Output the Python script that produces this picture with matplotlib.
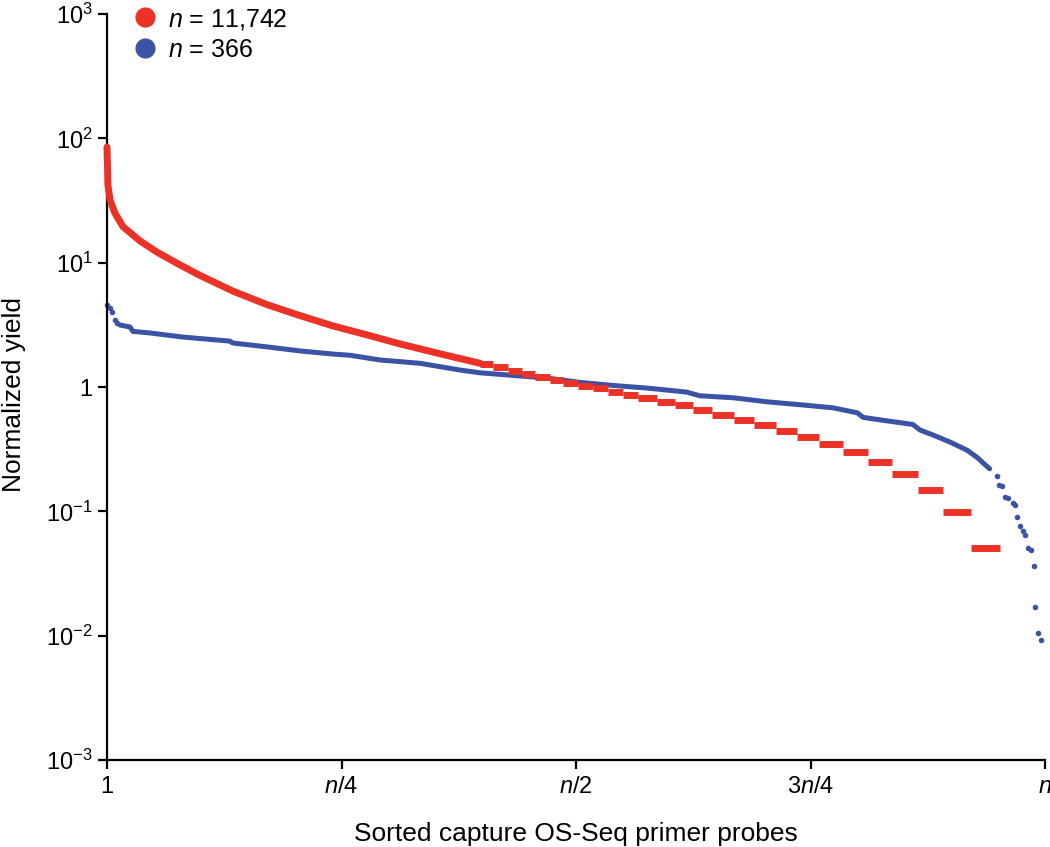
import matplotlib
matplotlib.use("Agg")
import matplotlib.pyplot as plt
from matplotlib.lines import Line2D

plt.rcParams['font.family'] = ['Liberation Sans', 'DejaVu Sans']
plt.rcParams['mathtext.fontset'] = 'custom'
plt.rcParams['mathtext.rm'] = 'Liberation Sans'
plt.rcParams['mathtext.it'] = 'Liberation Sans:italic'

RED = '#EC3126'
BLUE = '#3A53A4'

# ---- data (x = rank position as fraction of n, y = normalized yield) ----
red_smooth_x = [0.0, 0.0005, 0.001, 0.0032, 0.0085, 0.017, 0.035, 0.053, 0.0778,
                0.0991, 0.1343, 0.1706, 0.2058, 0.2409, 0.2751, 0.3124, 0.355, 0.398]
red_smooth_y = [85, 60, 42, 32, 25, 19.5, 15, 12.2, 9.6,
                7.9, 5.9, 4.6, 3.75, 3.1, 2.65, 2.22, 1.85, 1.55]

red_step_edges = [0.398, 0.412, 0.428, 0.442, 0.456, 0.472, 0.486, 0.502, 0.518,
                  0.534, 0.550, 0.566, 0.586, 0.606, 0.625, 0.645, 0.668, 0.690,
                  0.713, 0.736, 0.759, 0.785, 0.811, 0.837, 0.865, 0.891, 0.921, 0.952]
red_step_y = [1.53, 1.44, 1.35, 1.27, 1.21, 1.14, 1.08, 1.02, 0.976, 0.917, 0.862,
              0.811, 0.762, 0.716, 0.653, 0.595, 0.543, 0.495, 0.443, 0.396, 0.348,
              0.30, 0.249, 0.20, 0.148, 0.099, 0.051]

blue_head_x = [0.0, 0.0027, 0.0053, 0.0085, 0.011]
blue_head_y = [4.6, 4.35, 4.0, 3.45, 3.25]

blue_line_x = [0.0139, 0.0245, 0.0277, 0.0458, 0.081, 0.131, 0.134, 0.171, 0.206,
               0.241, 0.259, 0.291, 0.334, 0.376, 0.398, 0.469, 0.504, 0.539, 0.576,
               0.618, 0.632, 0.667, 0.704, 0.739, 0.774, 0.800, 0.806, 0.827, 0.859,
               0.867, 0.881, 0.899, 0.917, 0.928, 0.934, 0.941]
blue_line_y = [3.15, 3.04, 2.8, 2.72, 2.52, 2.34, 2.26, 2.1, 1.95,
               1.84, 1.80, 1.65, 1.55, 1.37, 1.30, 1.18, 1.09, 1.03, 0.98,
               0.91, 0.85, 0.82, 0.76, 0.72, 0.68, 0.62, 0.57, 0.54, 0.50,
               0.45, 0.41, 0.36, 0.31, 0.27, 0.245, 0.22]

blue_tail_x = [0.949, 0.951, 0.954, 0.957, 0.961, 0.966, 0.968, 0.970, 0.973,
               0.977, 0.979, 0.982, 0.985, 0.988, 0.989, 0.993, 0.996]
blue_tail_y = [0.192, 0.163, 0.160, 0.130, 0.128, 0.117, 0.113, 0.090, 0.076,
               0.069, 0.064, 0.051, 0.049, 0.036, 0.017, 0.0105, 0.0093]

legend_labels = [r'$\mathit{n}$ = 11,742', r'$\mathit{n}$ = 366']
x_tick_pos = [0, 0.25, 0.5, 0.75, 1.0]
x_tick_labels = ['1', r'$\mathit{n}$/4', r'$\mathit{n}$/2', r'3$\mathit{n}$/4', r'$\mathit{n}$']
y_tick_pos = [1e-3, 1e-2, 1e-1, 1, 1e1, 1e2, 1e3]
y_tick_labels = [r'$\mathregular{10^{-3}}$', r'$\mathregular{10^{-2}}$', r'$\mathregular{10^{-1}}$',
                 '1', r'$\mathregular{10^{1}}$', r'$\mathregular{10^{2}}$', r'$\mathregular{10^{3}}$']

fig = plt.figure(figsize=(10.5, 8.47), dpi=100)
ax = fig.add_axes([107/1050, 1 - 760/847, (1045-107)/1050, (760-14)/847])

# blue series
ax.plot(blue_line_x, blue_line_y, color=BLUE, lw=3.6, solid_capstyle='round',
        solid_joinstyle='round', clip_on=False, zorder=2)
ax.plot(blue_head_x, blue_head_y, 'o', color=BLUE, ms=4.0, mew=0, clip_on=False, zorder=2)
ax.plot(blue_tail_x, blue_tail_y, 'o', color=BLUE, ms=4.0, mew=0, clip_on=False, zorder=2)

# red series
ax.plot(red_smooth_x, red_smooth_y, color=RED, lw=5.0, solid_capstyle='round',
        solid_joinstyle='round', clip_on=False, zorder=3)
ax.hlines(red_step_y, red_step_edges[:-1], red_step_edges[1:], color=RED, lw=5.0,
          clip_on=False, zorder=3)

ax.set_yscale('log')
ax.set_ylim(1e-3, 1e3)
ax.set_xlim(0, 1)
ax.set_yticks(y_tick_pos)
ax.set_yticklabels(y_tick_labels)
ax.minorticks_off()
ax.set_xticks(x_tick_pos)
ax.set_xticklabels(x_tick_labels)

for s in ['top', 'right']:
    ax.spines[s].set_visible(False)
for s in ['left', 'bottom']:
    ax.spines[s].set_linewidth(1.6)
ax.tick_params(axis='both', which='major', direction='out', length=6.5, width=1.6,
               labelsize=17, color='black')
ax.tick_params(axis='x', pad=5)
ax.tick_params(axis='y', pad=4)

ax.set_xlabel('Sorted capture OS-Seq primer probes', fontsize=19, labelpad=17)
ax.set_ylabel('Normalized yield', fontsize=19)
ax.yaxis.set_label_coords(-0.086, 0.49)

handles = [Line2D([], [], marker='o', color=RED, linestyle='none', markersize=14.5, mew=0),
           Line2D([], [], marker='o', color=BLUE, linestyle='none', markersize=14.5, mew=0)]
ax.legend(handles, legend_labels, loc='upper left', bbox_to_anchor=(0.027, 1.010),
          frameon=False, fontsize=18, handlelength=1.0, handletextpad=0.42,
          labelspacing=0.24, borderpad=0, borderaxespad=0)

fig.savefig('out.png', dpi=100)
